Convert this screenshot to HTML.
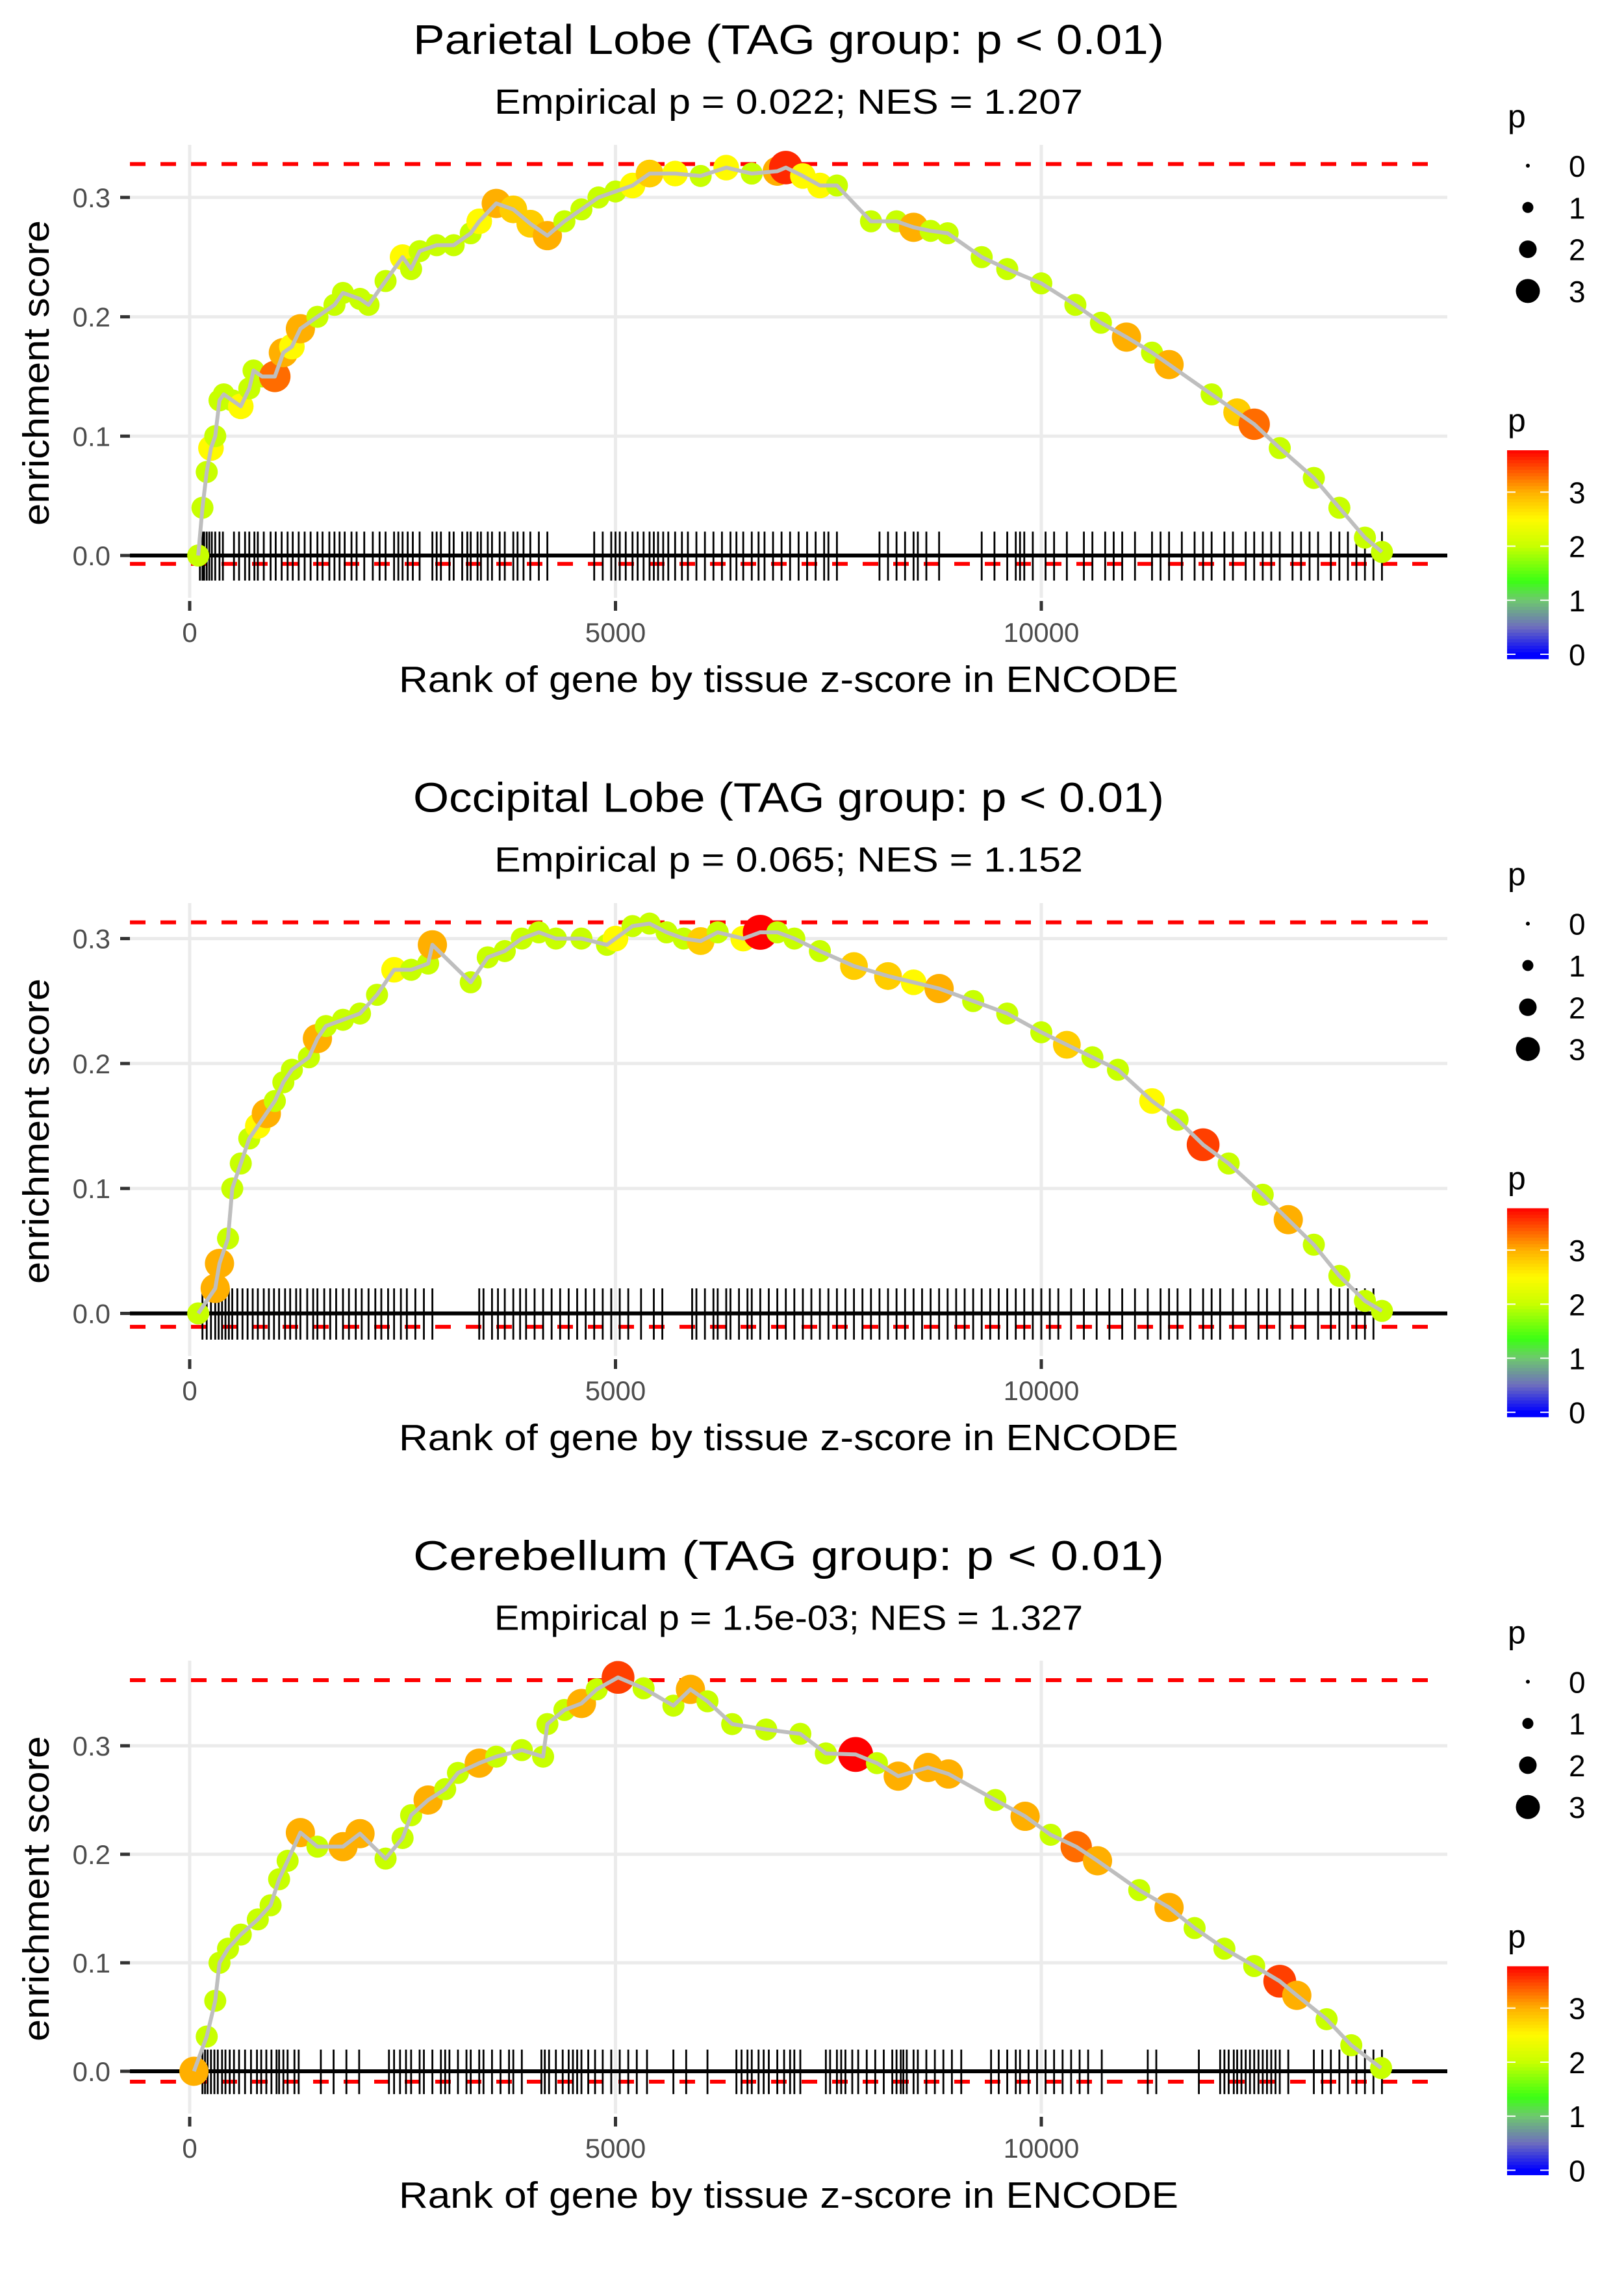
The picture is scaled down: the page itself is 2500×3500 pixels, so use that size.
<!DOCTYPE html>
<html><head><meta charset="utf-8"><title>Enrichment plots</title>
<style>html,body{margin:0;padding:0;background:#fff}svg{display:block}text{font-family:"Liberation Sans",Arial,sans-serif}</style>
</head><body>
<svg id="fig" xmlns="http://www.w3.org/2000/svg" width="2500" height="3500" viewBox="0 0 2500 3500"></svg>
<script>
// ---------- data ----------
const titles = ["Parietal Lobe (TAG group: p < 0.01)","Occipital Lobe (TAG group: p < 0.01)","Cerebellum (TAG group: p < 0.01)"];
const subtitles = ["Empirical p = 0.022; NES = 1.207","Empirical p = 0.065; NES = 1.152","Empirical p = 1.5e-03; NES = 1.327"];
const maxES = [0.328, 0.313, 0.3605];
const minES = [-0.007, -0.0107, -0.0096];
const xTicks = [0, 5000, 10000];
const xTickLabels = ["0","5000","10000"];
const yTicks = [0.0, 0.1, 0.2, 0.3];
const yTickLabels = ["0.0","0.1","0.2","0.3"];
const sizeLegendValues = [0,1,2,3];
const colorLegendValues = [0,1,2,3];

const ranks1 = [100,150,200,250,300,350,400,500,600,700,750,850,1000,1100,1200,1300,1500,1700,1800,2000,2100,2300,2500,2600,2700,2900,3100,3300,3400,3600,3800,4000,4200,4400,4600,4800,5000,5200,5400,5700,6000,6300,6600,6900,7000,7200,7400,7600,8000,8300,8500,8700,8900,9300,9600,10000,10400,10700,11000,11300,11500,12000,12300,12500,12800,13200,13500,13800,14000];
const es1 = [0.0,0.04,0.07,0.09,0.10,0.13,0.135,0.13,0.125,0.14,0.155,0.15,0.15,0.17,0.175,0.19,0.20,0.21,0.22,0.215,0.21,0.23,0.25,0.24,0.255,0.26,0.26,0.27,0.28,0.295,0.29,0.278,0.268,0.28,0.29,0.30,0.305,0.31,0.32,0.32,0.318,0.325,0.32,0.322,0.325,0.318,0.31,0.31,0.28,0.28,0.275,0.272,0.27,0.25,0.24,0.228,0.21,0.195,0.183,0.17,0.16,0.135,0.12,0.11,0.09,0.065,0.04,0.015,0.003];
const p1 = [2,2,2,2.5,2,2,2,2,2.5,2,2,2,3.3,3,2.5,3,2,2,2,2,2,2,2.5,2,2,2,2,2,2.5,3,2.8,2.8,3,2,2,2,2,2.5,2.8,2.5,2,2.5,2,3,3.6,2.5,2.5,2,2,2,3,2,2,2,2,2,2,2,3,2,3,2,2.8,3.3,2,2,2,2,2];
const hits1 = [120,150,170,200,230,260,300,350,390,520,580,650,700,760,800,870,950,1010,1080,1150,1210,1280,1350,1420,1500,1560,1640,1700,1760,1820,1900,1960,2050,2150,2230,2300,2400,2450,2500,2560,2620,2700,2850,2900,2950,3050,3100,3200,3260,3300,3380,3420,3500,3550,3640,3700,3800,3850,3920,4000,4100,4200,4750,4850,4950,5000,5050,5120,5200,5260,5330,5400,5450,5500,5560,5620,5700,5780,5850,5950,6050,6150,6250,6350,6420,6500,6600,6680,6750,6850,6950,7050,7150,7250,7350,7450,7500,7600,8100,8200,8300,8400,8500,8550,8650,8800,9300,9450,9600,9700,9750,9800,9900,10050,10150,10300,10500,10600,10750,10850,10950,11100,11300,11400,11500,11650,11800,11900,12000,12150,12250,12400,12500,12600,12700,12800,12950,13050,13150,13250,13400,13500,13600,13700,13800,13900,14000];

const ranks2 = [100,300,350,450,500,600,700,800,900,1000,1100,1200,1400,1500,1600,1800,2000,2200,2400,2600,2800,2850,3300,3500,3700,3900,4100,4300,4600,4900,5000,5200,5400,5600,5800,6000,6200,6500,6700,6900,7100,7400,7800,8200,8500,8800,9200,9600,10000,10300,10600,10900,11300,11600,11900,12200,12600,12900,13200,13500,13800,14000];
const es2 = [0,0.02,0.04,0.06,0.10,0.12,0.14,0.15,0.16,0.17,0.185,0.195,0.205,0.22,0.23,0.235,0.24,0.255,0.275,0.275,0.28,0.295,0.265,0.285,0.29,0.30,0.305,0.30,0.30,0.295,0.30,0.31,0.312,0.305,0.30,0.298,0.305,0.30,0.305,0.305,0.30,0.29,0.278,0.27,0.265,0.26,0.25,0.24,0.225,0.215,0.205,0.195,0.17,0.155,0.135,0.12,0.095,0.075,0.055,0.03,0.01,0.002];
const p2 = [2,3,3,2,2,2,2,2.5,3,2,2,2,2,3,2,2,2,2,2.5,2,2,3,2,2,2,2,2,2,2,2,2.5,2,2,2,2,2.8,2,2.5,3.8,2,2,2,2.8,2.8,2.5,3,2,2,2,2.8,2,2,2.5,2,3.5,2,2,3,2,2,2,2];
const hits2 = [150,200,250,300,340,380,420,460,500,560,620,680,740,800,870,930,990,1050,1120,1180,1250,1300,1380,1450,1500,1580,1650,1720,1800,1870,1950,2020,2100,2180,2250,2330,2400,2480,2550,2650,2750,2850,3400,3450,3550,3620,3700,3800,3880,3950,4050,4150,4250,4350,4450,4550,4650,4750,4850,4950,5050,5150,5300,5450,5550,5900,5950,6050,6150,6200,6300,6350,6450,6550,6600,6700,6800,6900,7000,7100,7200,7300,7400,7500,7600,7700,7800,7900,8000,8100,8200,8300,8400,8500,8600,8700,8800,8900,9000,9100,9200,9300,9400,9500,9600,9700,9800,9900,10000,10100,10200,10350,10500,10650,10800,10950,11100,11250,11400,11500,11600,11750,11900,12000,12100,12250,12400,12550,12650,12800,12950,13100,13250,13400,13500,13600,13700,13800,13900];

const ranks3 = [50,200,300,350,450,600,800,950,1050,1150,1300,1500,1800,2000,2300,2500,2600,2800,3000,3150,3400,3600,3900,4150,4200,4400,4600,4780,5030,5330,5680,5880,6080,6370,6770,7170,7470,7820,8070,8320,8670,8910,9460,9810,10110,10410,10660,11150,11500,11800,12150,12500,12800,13000,13350,13640,13990];
const es3 = [0.0,0.032,0.065,0.10,0.113,0.126,0.14,0.153,0.177,0.194,0.22,0.207,0.207,0.219,0.196,0.215,0.236,0.25,0.26,0.275,0.284,0.29,0.296,0.29,0.32,0.333,0.339,0.352,0.363,0.353,0.337,0.352,0.341,0.32,0.315,0.311,0.293,0.292,0.284,0.272,0.28,0.274,0.25,0.235,0.218,0.207,0.194,0.167,0.151,0.132,0.113,0.097,0.083,0.07,0.048,0.024,0.003];
const p3 = [3,2,2,2,2,2,2,2,2,2,3,2,3,3,2,2,2,3,2,2,3,2,2,2,2,2,3,2,3.5,2,2,3,2,2,2,2,2,3.8,2,3,3,3,2,3,2,3.3,3,2,3,2,2,2,3.5,3,2,2,2];
const hits3 = [150,180,210,250,290,330,380,420,470,520,580,650,720,790,840,900,960,1020,1050,1100,1150,1230,1280,1540,1690,1840,1990,2340,2400,2470,2540,2600,2700,2750,2850,2950,3000,3050,3150,3250,3300,3400,3450,3550,3650,3750,3800,3900,4130,4170,4220,4300,4380,4450,4500,4550,4600,4680,4760,4850,4950,5050,5150,5250,5370,5680,5830,6080,6420,6480,6550,6600,6680,6740,6800,6900,6980,7050,7100,7170,7470,7520,7600,7650,7700,7780,7850,7950,8050,8150,8250,8300,8350,8380,8420,8500,8550,8650,8750,8850,8950,9060,9410,9500,9600,9700,9750,9850,9950,10050,10150,10250,10350,10450,10550,10710,11250,11350,11850,12100,12150,12200,12260,12300,12350,12400,12450,12500,12550,12600,12650,12700,12750,12800,12900,13200,13300,13400,13500,13600,13700,13800,13900,14000];

const allRanks = [ranks1, ranks2, ranks3];
const allES = [es1, es2, es3];
const allP = [p1, p2, p3];
const allHits = [hits1, hits2, hits3];

// ---------- layout ----------
const NS = "http://www.w3.org/2000/svg";
const svg = document.getElementById("fig");
const panelH = 3500/3;
const plotL = 200, plotR = 2228;
const zeroY = [855, 2021.5, 3188];
const pxPer = [1837, 1923, 1670];
const topY = [223, 1390, 2556];
const xAxisTickY = [925, 2092, 3258];
function xs(r){ return 292 + r*0.1311; }
function ysFor(i){ return v => zeroY[i] - v*pxPer[i]; }
function rad(p){ return 6 + 5.5*p; }
const cStops = [[0,[0,0,255]],[0.5,[110,110,190]],[1.0,[110,200,110]],[1.35,[60,255,20]],[2.0,[200,255,0]],[2.5,[255,250,0]],[3.0,[255,175,0]],[3.78,[255,0,0]]];
function col(p){
  if(p<=0) return "rgb(0,0,255)";
  for(let k=1;k<cStops.length;k++){
    if(p<=cStops[k][0]){const a=cStops[k-1],b=cStops[k];const t=(p-a[0])/(b[0]-a[0]);
      return "rgb("+a[1].map((c,j)=>Math.round(c+(b[1][j]-c)*t)).join(",")+")";}
  }
  return "rgb(255,0,0)";
}
function mk(tag, attrs, parent){ const e=document.createElementNS(NS,tag); for(const k in attrs) e.setAttribute(k,attrs[k]); (parent||svg).appendChild(e); return e; }

for(let i=0;i<3;i++){
  const off = i*panelH;
  const ys = ysFor(i);
  const g = mk("g",{});
  
  
  let t = mk("text",{x:1214,y:83+off,"text-anchor":"middle","font-size":64,fill:"#000",textLength:1156,lengthAdjust:"spacingAndGlyphs"},g);
  t.textContent = titles[i];
  
  
  t = mk("text",{x:1214,y:175+off,"text-anchor":"middle","font-size":54,fill:"#000",textLength:906,lengthAdjust:"spacingAndGlyphs"},g);
  t.textContent = subtitles[i];
  
  
  yTicks.forEach((v,k)=>{
    const l = mk("line",{x1:plotL,x2:plotR,y1:ys(v),y2:ys(v),stroke:"#ebebeb","stroke-width":5},g);
    
    
    const tk = mk("line",{x1:185,x2:200,y1:ys(v),y2:ys(v),stroke:"#333","stroke-width":5},g);
    
    
    const tl = mk("text",{x:170,y:ys(v)+15,"text-anchor":"end","font-size":42,fill:"#4d4d4d"},g);
    tl.textContent = yTickLabels[k];
    
    
  });
  xTicks.forEach((v,k)=>{
    const l = mk("line",{x1:xs(v),x2:xs(v),y1:topY[i],y2:xAxisTickY[i]-5,stroke:"#ebebeb","stroke-width":5},g);
    
    
    const tk = mk("line",{x1:xs(v),x2:xs(v),y1:xAxisTickY[i],y2:xAxisTickY[i]+15,stroke:"#333","stroke-width":5},g);
    
    
    const tl = mk("text",{x:xs(v),y:xAxisTickY[i]+63,"text-anchor":"middle","font-size":42,fill:"#4d4d4d"},g);
    tl.textContent = xTickLabels[k];
    
    
  });
  t = mk("text",{x:1214,y:xAxisTickY[i]+140,"text-anchor":"middle","font-size":57,fill:"#000",textLength:1200,lengthAdjust:"spacingAndGlyphs"},g);
  t.textContent = "Rank of gene by tissue z-score in ENCODE";
  
  
  const ym = (topY[i]+xAxisTickY[i])/2;
  t = mk("text",{x:0,y:0,"text-anchor":"middle","font-size":57,fill:"#000",textLength:470,lengthAdjust:"spacingAndGlyphs",transform:"translate(75,"+ym+") rotate(-90)"},g);
  t.textContent = "enrichment score";
  
  
  [maxES[i], minES[i]].forEach((v,k)=>{
    const l = mk("line",{x1:plotL,x2:2217,y1:ys(v),y2:ys(v),stroke:"#ff0000","stroke-width":6,"stroke-dasharray":"24 23"},g);
    
    
  });
  const rug = mk("g",{},g);
  
  
  allHits[i].forEach(r=>{
    const l = mk("line",{x1:xs(r),x2:xs(r),y1:ys(0.02),y2:ys(-0.021),stroke:"#000","stroke-width":2.8},rug);
    
    
  });
  const z = mk("line",{x1:plotL,x2:plotR,y1:ys(0),y2:ys(0),stroke:"#000","stroke-width":6},g);
  
  
  const R = allRanks[i], E = allES[i], P = allP[i];
  const pts = mk("g",{},g);
  
  
  R.forEach((r,k)=>{
    const c = mk("circle",{cx:xs(r),cy:ys(E[k]),r:rad(P[k]),fill:col(P[k])},pts);
    
    
  });
  const path = mk("polyline",{points:R.map((r,k)=>xs(r)+","+ys(E[k])).join(" "),fill:"none",stroke:"#bebebe","stroke-width":6,"stroke-linejoin":"round"},g);
  
  
  const lg = mk("g",{},g);
  
  
  t = mk("text",{x:2321,y:196+off,"font-size":50,fill:"#000"},lg);
  t.textContent = "p";
  
  
  sizeLegendValues.forEach((v,k)=>{
    const cy = 255+off+k*64.3;
    const c = mk("circle",{cx:2352,cy:cy,r:[3,8.5,13.5,18.5][k],fill:"#000"},lg);
    
    
    const tl = mk("text",{x:2415,y:cy+17,"font-size":46,fill:"#000"},lg);
    tl.textContent = String(v);
    
    
  });
  const cg = mk("g",{},g);
  
  
  t = mk("text",{x:2321,y:664+off,"font-size":50,fill:"#000"},cg);
  t.textContent = "p";
  
  
  const barTop = 693+off, barBot = 1014+off;
  const unit = 83.2;
  const v0y = 1007+off;
  const nSeg = 64;
  for(let s=0;s<nSeg;s++){
    const y0 = barTop + (barBot-barTop)*s/nSeg, y1 = barTop + (barBot-barTop)*(s+1)/nSeg;
    const pv = (v0y - (y0+y1)/2)/unit;
    const rct = mk("rect",{x:2320,y:y0,width:64,height:y1-y0+0.6,fill:col(pv)},cg);
    
    
  }
  colorLegendValues.forEach(v=>{
    const yy = v0y - v*unit;
    [[2320,2333],[2371,2384]].forEach(xx=>{
      const l = mk("line",{x1:xx[0],x2:xx[1],y1:yy,y2:yy,stroke:"#fff","stroke-width":2},cg);
      
      
    });
    const tl = mk("text",{x:2415,y:yy+17,"font-size":46,fill:"#000"},cg);
    tl.textContent = String(v);
    
    
  });
}
</script>
</body></html>
